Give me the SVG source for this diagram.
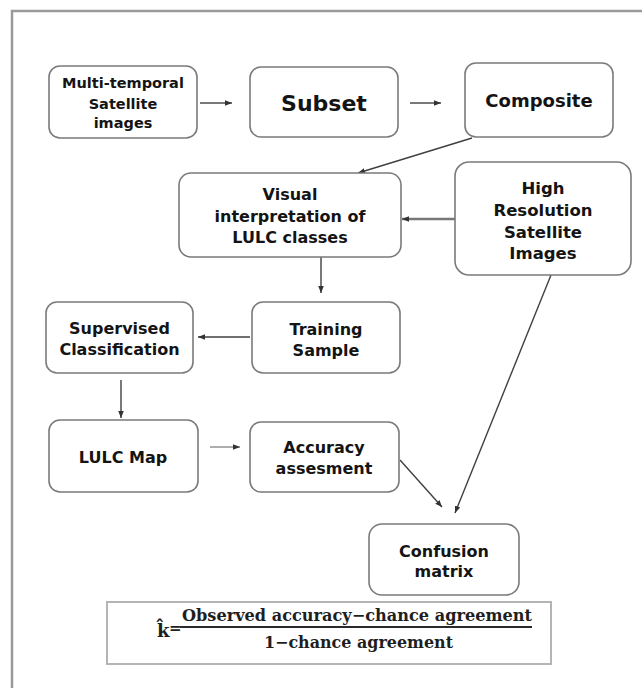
<svg xmlns="http://www.w3.org/2000/svg" width="642" height="688" viewBox="0 0 642 688">
  <defs>
    <style>
      .box { fill: #ffffff; stroke: #7a7a7a; stroke-width: 1.6; }
      .t { font-family: "DejaVu Sans", "Liberation Sans", sans-serif; font-weight: bold; fill: #141414; text-anchor: middle; }
      .c { fill: none; stroke: #404040; stroke-width: 1.4; marker-end: url(#ah); }
      .f { font-family: "DejaVu Serif", "Liberation Serif", serif; font-weight: bold; fill: #1e1e1e; }
    </style>
    <marker id="ah" viewBox="0 0 10 10" refX="10" refY="5" markerWidth="7" markerHeight="7" markerUnits="userSpaceOnUse" orient="auto">
      <path d="M0,1 L10,5 L0,9 z" fill="#333333"/>
    </marker>
  </defs>
  <rect x="0" y="0" width="642" height="688" fill="#ffffff"/>
  <g id="frame">
    <path d="M12 688 V11 H642" fill="none" stroke="#9a9a9a" stroke-width="2.5"/>
  </g>

  <g id="connectors">
    <line class="c" x1="200" y1="103" x2="232" y2="103"/>
    <line class="c" x1="410" y1="103" x2="441" y2="103"/>
    <line class="c" x1="472" y1="138" x2="358" y2="173"/>
    <line class="c" x1="455" y1="219" x2="402" y2="219" style="stroke:#777;stroke-width:2.5"/>
    <line class="c" x1="321" y1="257" x2="321" y2="293"/>
    <line class="c" x1="250" y1="337" x2="198" y2="337"/>
    <line class="c" x1="121" y1="380" x2="121" y2="418"/>
    <line class="c" x1="210" y1="447" x2="240" y2="447" style="stroke:#8a8a8a"/>
    <line class="c" x1="400" y1="460" x2="442" y2="507"/>
    <line class="c" x1="551" y1="275" x2="455" y2="513"/>
  </g>

  <g id="n-multi">
    <rect class="box" x="49" y="66" width="148" height="72" rx="11"/>
    <text class="t" x="123" y="88" font-size="14.5">Multi-temporal</text>
    <text class="t" x="123" y="109" font-size="14.5">Satellite</text>
    <text class="t" x="123" y="128" font-size="14.5">images</text>
  </g>
  <g id="n-subset">
    <rect class="box" x="250" y="67" width="148" height="70" rx="11"/>
    <text class="t" x="324" y="111" font-size="22">Subset</text>
  </g>
  <g id="n-composite">
    <rect class="box" x="465" y="63" width="148" height="74" rx="11"/>
    <text class="t" x="539" y="106.5" font-size="18">Composite</text>
  </g>
  <g id="n-visual">
    <rect class="box" x="179" y="173" width="222" height="84" rx="12"/>
    <text class="t" x="290" y="200" font-size="16">Visual</text>
    <text class="t" x="290" y="221.5" font-size="16">interpretation of</text>
    <text class="t" x="290" y="243" font-size="16">LULC classes</text>
  </g>
  <g id="n-highres">
    <rect class="box" x="455" y="162" width="176" height="113" rx="14"/>
    <text class="t" x="543" y="194" font-size="16.5">High</text>
    <text class="t" x="543" y="216" font-size="16.5">Resolution</text>
    <text class="t" x="543" y="238" font-size="16.5">Satellite</text>
    <text class="t" x="543" y="259" font-size="16.5">Images</text>
  </g>
  <g id="n-supervised">
    <rect class="box" x="46" y="302" width="147" height="71" rx="11"/>
    <text class="t" x="119.5" y="334" font-size="16">Supervised</text>
    <text class="t" x="119.5" y="355" font-size="16">Classification</text>
  </g>
  <g id="n-training">
    <rect class="box" x="252" y="302" width="148" height="71" rx="11"/>
    <text class="t" x="326" y="335" font-size="16">Training</text>
    <text class="t" x="326" y="356" font-size="16">Sample</text>
  </g>
  <g id="n-lulcmap">
    <rect class="box" x="49" y="420" width="149" height="72" rx="11"/>
    <text class="t" x="123" y="463" font-size="16">LULC Map</text>
  </g>
  <g id="n-accuracy">
    <rect class="box" x="250" y="422" width="149" height="70" rx="11"/>
    <text class="t" x="324" y="452.5" font-size="16">Accuracy</text>
    <text class="t" x="324" y="473.5" font-size="16">assesment</text>
  </g>
  <g id="n-confusion">
    <rect class="box" x="369" y="524" width="150" height="71" rx="13"/>
    <text class="t" x="444" y="557" font-size="16">Confusion</text>
    <text class="t" x="444" y="577" font-size="16">matrix</text>
  </g>

  <g id="formula">
    <rect x="107" y="602" width="444" height="62" fill="#ffffff" stroke="#b4b4b4" stroke-width="2"/>
    <text class="f" x="157" y="637" font-size="18">k̂</text>
    <text class="f" x="169" y="633" font-size="15">=</text>
    <line x1="180" y1="627" x2="532" y2="627" stroke="#2a2a2a" stroke-width="2"/>
    <text class="f" x="182" y="621" font-size="16" textLength="350" lengthAdjust="spacingAndGlyphs">Observed accuracy−chance agreement</text>
    <text class="f" x="264" y="648" font-size="16" textLength="189" lengthAdjust="spacingAndGlyphs">1−chance agreement</text>
  </g>
</svg>
